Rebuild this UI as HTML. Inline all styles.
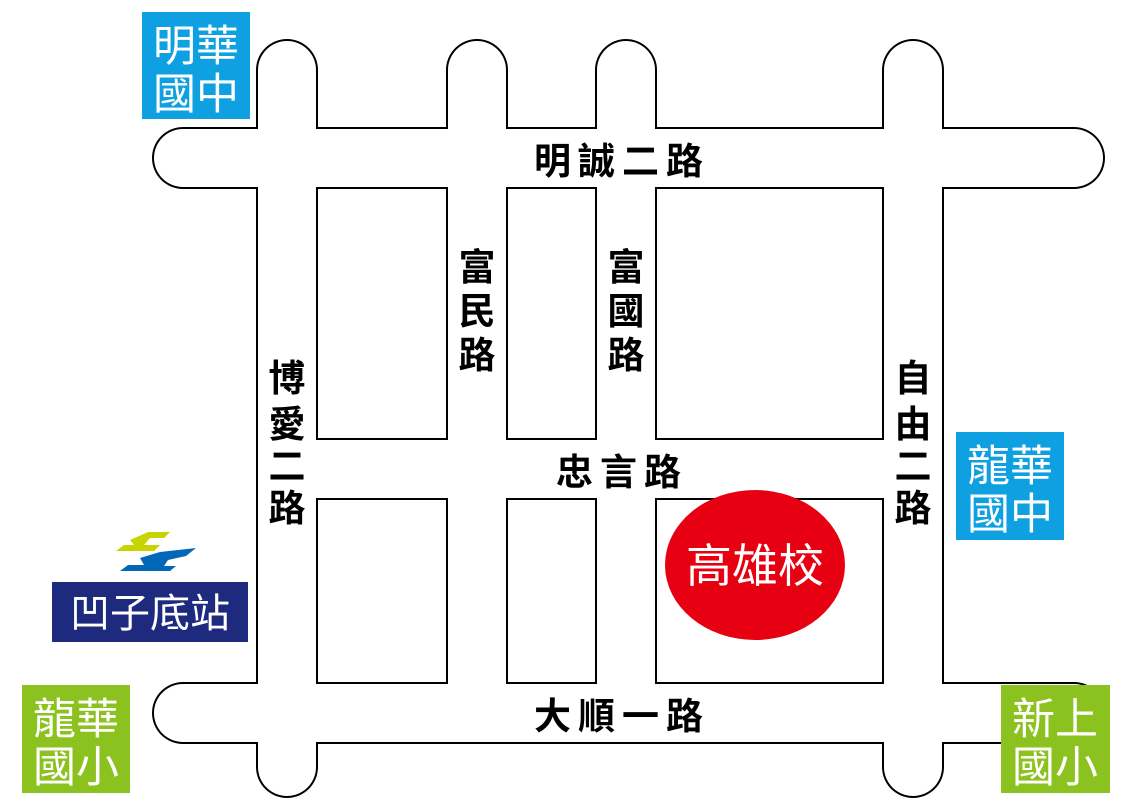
<!DOCTYPE html>
<html><head><meta charset="utf-8"><style>
html,body{margin:0;padding:0;background:#fff;width:1132px;height:808px;overflow:hidden}
svg{display:block}
text{font-family:"Liberation Sans","Noto Sans CJK TC",sans-serif}
.b{font-weight:bold}
</style></head><body>
<svg width="1132" height="808" viewBox="0 0 1132 808" xmlns="http://www.w3.org/2000/svg">
<g stroke="#000" stroke-width="62" stroke-linecap="round" fill="none">
<line x1="287" y1="70" x2="287" y2="767"/>
<line x1="913" y1="70" x2="913" y2="767"/>
<line x1="477" y1="70" x2="477" y2="713"/>
<line x1="626" y1="70" x2="626" y2="713"/>
<line x1="183" y1="158" x2="1074" y2="158"/>
<line x1="183" y1="713" x2="1074" y2="713"/>
<line x1="287" y1="469" x2="913" y2="469" stroke-linecap="butt"/>
</g>
<g stroke="#fff" stroke-width="58" stroke-linecap="round" fill="none">
<line x1="287" y1="70" x2="287" y2="767"/>
<line x1="913" y1="70" x2="913" y2="767"/>
<line x1="477" y1="70" x2="477" y2="713"/>
<line x1="626" y1="70" x2="626" y2="713"/>
<line x1="183" y1="158" x2="1074" y2="158"/>
<line x1="183" y1="713" x2="1074" y2="713"/>
<line x1="287" y1="469" x2="913" y2="469" stroke-linecap="butt"/>
</g>
<g font-size="37" fill="#000" text-anchor="middle" class="b">
<text x="622" y="174" letter-spacing="7">明誠二路</text>
<text x="622" y="729" letter-spacing="7">大順一路</text>
<text x="622" y="485" letter-spacing="7">忠言路</text>
<text x="477" y="280">富</text><text x="477" y="324">民</text><text x="477" y="368">路</text>
<text x="626" y="280">富</text><text x="626" y="324">國</text><text x="626" y="368">路</text>
<text x="287" y="391">博</text><text x="287" y="437">愛</text><text x="287" y="479">二</text><text x="287" y="521">路</text>
<text x="913" y="391">自</text><text x="913" y="437">由</text><text x="913" y="479">二</text><text x="913" y="521">路</text>
</g>
<ellipse cx="755" cy="565" rx="90" ry="75" fill="#e60012"/>
<text x="755" y="582" font-size="46" fill="#fff" text-anchor="middle">高雄校</text>
<rect x="142" y="12" width="108" height="107" fill="#0ea0e0"/>
<rect x="956" y="432" width="108" height="108" fill="#0ea0e0"/>
<rect x="22" y="685" width="108" height="108" fill="#8cc21f"/>
<rect x="1001" y="685" width="109" height="108" fill="#8cc21f"/>
<g font-size="43" fill="#fff" text-anchor="middle">
<text x="196" y="61">明華</text><text x="196" y="109">國中</text>
<text x="1010" y="481">龍華</text><text x="1010" y="529">國中</text>
<text x="76" y="734">龍華</text><text x="76" y="782">國小</text>
<text x="1055" y="734">新上</text><text x="1055" y="782">國小</text>
</g>
<rect x="52" y="582" width="196" height="60" fill="#1e2a7e"/>
<text x="150" y="627" font-size="40" fill="#fff" text-anchor="middle">凹子底站</text>
<polygon points="130,540 148,532 170,532 164,538 150,538 144,545 160,545 154,551 116,551 124,545 134,545" fill="#c8d400"/>
<polygon points="140,558 160,552 196,548 186,556 168,560 164,566 176,566 170,571 120,571 128,565 144,565" fill="#0068b7"/>
</svg>
</body></html>
